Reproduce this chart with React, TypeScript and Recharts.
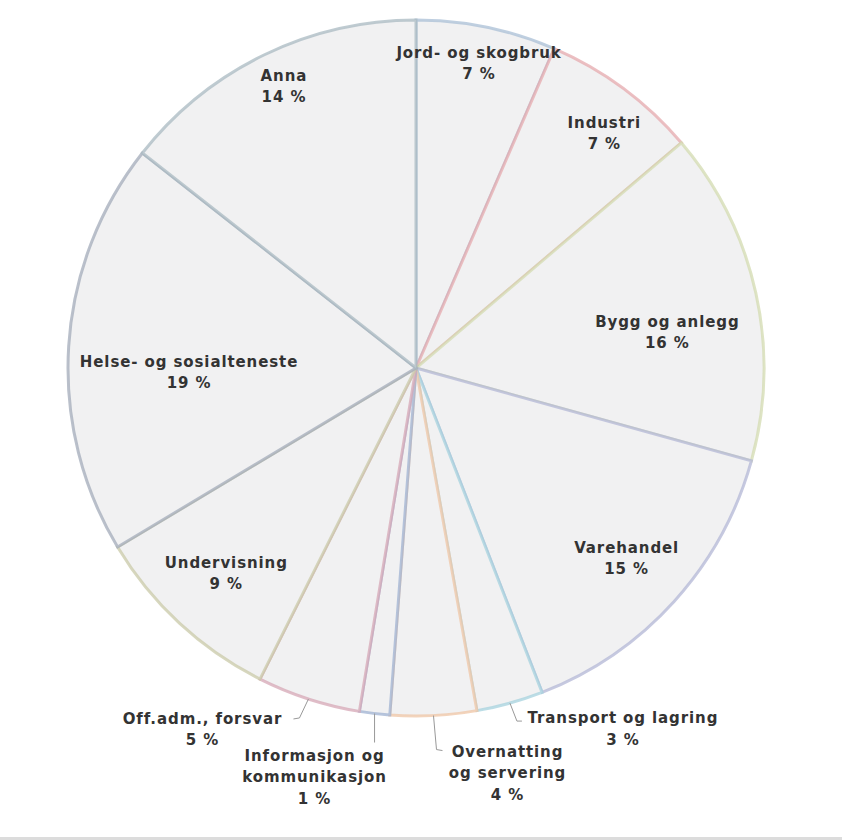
import { PieChart, Pie, Cell } from "recharts";

const categories = [
  "Jord- og skogbruk",
  "Industri",
  "Bygg og anlegg",
  "Varehandel",
  "Transport og lagring",
  "Overnatting og servering",
  "Informasjon og kommunikasjon",
  "Off.adm., forsvar",
  "Undervisning",
  "Helse- og sosialteneste",
  "Anna",
];
const shares = [6.5, 7.3, 15.5, 14.8, 3.1, 4.0, 1.4, 4.8, 9.0, 19.2, 14.4];

const strokes = [
  "#a9bfd6", "#e6a9ad", "#d3dbb0", "#b3b7d6", "#a6d2de", "#efc6a6",
  "#9fb2d2", "#d6a7b6", "#c9caa8", "#a3abb9", "#aabac2",
];

const data = categories.map((name, i) => ({ name, value: shares[i] }));

const RAD = Math.PI / 180;
const FONT = "'DejaVu Sans', Verdana, sans-serif";

// inside labels: [radius from centre, angle nudge in degrees]
const labelPos: Record<number, number[]> = {
  0: [311, 0], 1: [301, -2.2], 2: [254, -4.2], 3: [284, 0],
  8: [279, 0], 9: [227, 4.6], 10: [311, -0.8],
};

// outside labels: leader line and text, offsets from the slice edge
const outside: Record<number, { line: number[][]; tx: number; ty: number; wrap?: number }> = {
  4: { line: [[7, 18], [12, 18]], tx: 113, ty: 15 },
  5: { line: [[3, 34], [9, 35]], tx: 74, ty: 36, wrap: 1 },
  6: { line: [[0, 29]], tx: -60, ty: 42, wrap: 2 },
  7: { line: [[-9, 19], [-15, 20]], tx: -106, ty: 20 },
};

const renderLabel = (p: any) => {
  const { cx, cy, midAngle, outerRadius, index, name, value } = p;
  const pct = `${Math.round(value)} %`;
  const txt = {
    fontFamily: FONT,
    fontSize: 15,
    fontWeight: 700,
    letterSpacing: 0.9,
    fill: "#333",
  };
  const o = outside[index];
  if (!o) {
    const [r, da] = labelPos[index] ?? [outerRadius * 0.8, 0];
    const a = -(midAngle + da) * RAD;
    const x = cx + r * Math.cos(a);
    const y = cy + r * Math.sin(a);
    return (
      <text x={x} y={y} textAnchor="middle" dominantBaseline="central" style={txt}>
        <tspan x={x} dy={-10}>{name}</tspan>
        <tspan x={x} dy={21}>{pct}</tspan>
      </text>
    );
  }
  const ex = cx + outerRadius * Math.cos(-midAngle * RAD);
  const ey = cy + outerRadius * Math.sin(-midAngle * RAD);
  const pts = [[ex, ey], ...o.line.map(([dx, dy]) => [ex + dx, ey + dy])]
    .map((q) => q.join(","))
    .join(" ");
  const words = name.split(" ");
  const lines = o.wrap
    ? [words.slice(0, o.wrap).join(" "), words.slice(o.wrap).join(" "), pct]
    : [name, pct];
  const x = ex + o.tx;
  const y = ey + o.ty;
  return (
    <g>
      <polyline points={pts} fill="none" stroke="#999" strokeWidth={1} />
      <text x={x} y={y} textAnchor="middle" dominantBaseline="central" style={txt}>
        {lines.map((l, i) => (
          <tspan key={i} x={x} dy={i === 0 ? 0 : 21.5}>{l}</tspan>
        ))}
      </text>
    </g>
  );
};

export default function App() {
  return (
    <div style={{ position: "absolute", left: 0, top: 0, width: 842, height: 840, background: "#fff" }}>
      <PieChart width={842} height={838} margin={{ top: 0, right: 0, bottom: 0, left: 0 }}>
        <Pie
          data={data}
          dataKey="value"
          nameKey="name"
          cx={416}
          cy={368}
          outerRadius={348}
          startAngle={90}
          endAngle={-270}
          label={renderLabel}
          labelLine={false}
          isAnimationActive={false}
        >
          {data.map((d, i) => (
            <Cell key={d.name} fill="#f1f1f2" stroke={strokes[i]} strokeWidth={3} strokeOpacity={0.75} />
          ))}
        </Pie>
      </PieChart>
      <div style={{ position: "absolute", left: 0, top: 837, width: 842, height: 3, background: "#dcdcdc" }} />
    </div>
  );
}
